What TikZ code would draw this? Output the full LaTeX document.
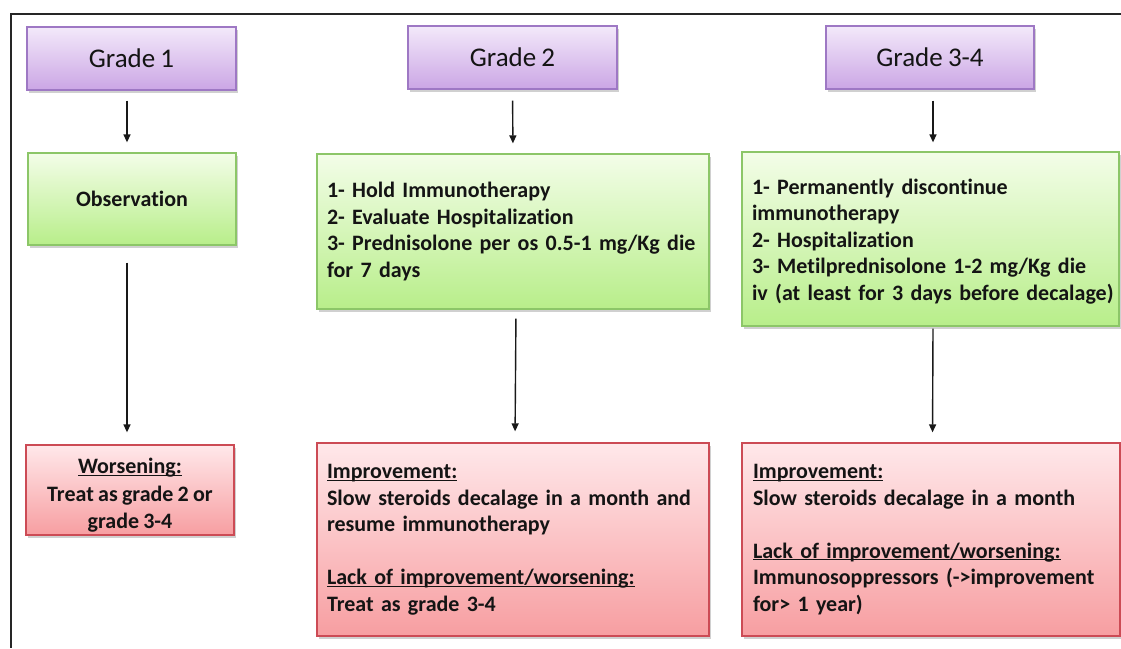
\documentclass[tikz,border=0pt]{standalone}
\usepackage{fontspec}
\setmainfont[Ligatures=NoCommon, WordSpace=0.85]{Carlito}
\usetikzlibrary{shadows,arrows.meta}
\definecolor{pTop}{HTML}{F3E9FA}
\definecolor{pBot}{HTML}{CBA6E5}
\definecolor{pLine}{HTML}{9E78C4}
\definecolor{gTop}{HTML}{F3FDE8}
\definecolor{gBot}{HTML}{B8EE8A}
\definecolor{gLine}{HTML}{8CC668}
\definecolor{rTop}{HTML}{FFE8EA}
\definecolor{rBot}{HTML}{F79EA1}
\definecolor{rLine}{HTML}{CC4B55}
\definecolor{txt}{HTML}{141414}
\newcommand\ulx[1]{\underline{\raisebox{0pt}[\height][0pt]{#1}}}
\hyphenpenalty=10000
\tikzset{
  boxbase/.style={draw, line width=1.3pt, inner ysep=0pt, text=txt,
    drop shadow={shadow xshift=1.5pt, shadow yshift=-2.5pt, opacity=0.3, fill=black!60}},
  gradebox/.style={boxbase, draw=pLine, top color=pTop, bottom color=pBot,
    font=\fontsize{27}{32}\selectfont, minimum height=63pt},
  actbox/.style={boxbase, draw=gLine, top color=gTop, bottom color=gBot,
    font=\bfseries\fontsize{22}{26.5}\selectfont},
  resbox/.style={boxbase, draw=rLine, top color=rTop, bottom color=rBot,
    font=\bfseries\fontsize{22}{26.5}\selectfont},
  arr/.style={-{Triangle[length=8pt,width=7pt]}, line width=1.4pt, black!90},
}
\begin{document}
\begin{tikzpicture}[x=1pt,y=-1pt]
\useasboundingbox (0,0) rectangle (1121,648);
\fill[white] (0,0) rectangle (1121,648);
\coordinate (fTR) at (1121,14);
\coordinate (fTL) at (11,14);
\coordinate (fBL) at (11,648);
\draw[line width=2pt, black!85] (fTR) -- (fTL) -- (fBL);

% grade boxes
\node[gradebox, minimum width=209pt] (g1) at (131.5,58.5) {Grade 1};
\node[gradebox, minimum width=209pt] (g2) at (512.5,57.5) {Grade 2};
\node[gradebox, minimum width=208pt] (g3) at (930,57.5) {Grade 3-4};

% action boxes
\node[actbox, minimum width=208pt, minimum height=92pt] (obs) at (132,199) {Observation};
\node[actbox, minimum width=392pt, minimum height=155pt, text width=372pt, align=left, inner xsep=10pt] (a2) at (513,231.5)
  {1- Hold Immunotherapy\\2- Evaluate Hospitalization\\3- Prednisolone per os 0.5-1 mg/Kg die\\for 7 days};
\node[actbox, minimum width=377pt, minimum height=174pt, text width=357pt, align=left, inner xsep=10pt] (a3) at (930.5,239)
  {\rule{0pt}{20pt}1- Permanently discontinue\\immunotherapy\\2- Hospitalization\\3- Metilprednisolone 1-2 mg/Kg die\\\mbox{iv (at least for 3 days before decalage)}};

% result boxes
\node[resbox, minimum width=208pt, minimum height=90pt, align=center] (w1) at (130,490)
  {\rule{0pt}{26pt}\ulx{Worsening:}\\[1pt]Treat as grade 2 or\\[1pt]grade 3-4};
\node[resbox, minimum width=392pt, minimum height=193pt, text width=372pt, align=left, inner xsep=10pt] (r2) at (513,539.5)
  {\ulx{Improvement:}\\Slow steroids decalage in a month and\\resume immunotherapy\\[26.5pt]\ulx{Lack of improvement/worsening:}\\Treat as grade 3-4};
\node[resbox, minimum width=378pt, minimum height=193pt, text width=356pt, align=left, inner xsep=11pt] (r3) at (931,539.5)
  {\ulx{Improvement:}\\Slow steroids decalage in a month\\[26.5pt]\ulx{Lack of improvement/worsening:}\\Immunosoppressors (->improvement\\for> 1 year)};

% arrows
\draw[arr, shorten <=10pt, shorten >=10pt] ([xshift=-4.5pt]g1.south) -- ([xshift=-5pt]obs.north);
\draw[arr, shorten <=17pt, shorten >=12pt] ([xshift=-5pt]obs.south) -- ([xshift=-3pt]w1.north);
\draw[arr, shorten <=11pt, shorten >=10pt] (g2.south) -- (a2.north);
\draw[arr, shorten <=9pt, shorten >=11pt] ([xshift=3pt]a2.south) -- ([xshift=2pt]r2.north);
\draw[arr, shorten <=11pt, shorten >=9pt] ([xshift=3pt]g3.south) -- ([xshift=2.5pt]a3.north);
\draw[arr, shorten <=2pt, shorten >=10pt] ([xshift=2.5pt]a3.south) -- ([xshift=1.5pt]r3.north);
\end{tikzpicture}
\end{document}
